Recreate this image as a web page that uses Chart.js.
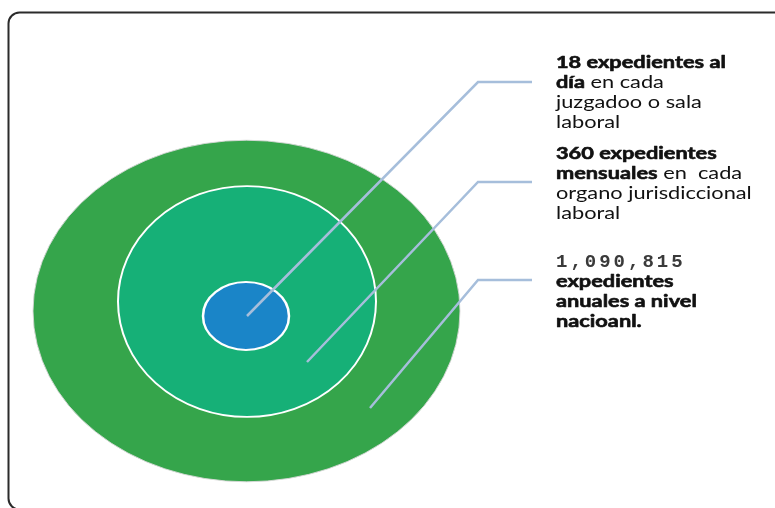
<!DOCTYPE html>
<html lang="es">
<head>
    <meta charset="UTF-8">
    <title>Expedientes laborales</title>
    <script src="https://cdn.jsdelivr.net/npm/chart.js"></script>
    <style>
        body { margin: 0; background: #fff; }
        #wrap { width: 775px; height: 508px; }
    </style>
</head>
<body>
    <div id="wrap"><canvas id="grafico" width="775" height="508"></canvas></div>

    <script>
        // Datos
        const niveles = ['día', 'mes', 'año'];
        const valores = [18, 360, 1090815];
        const colores = ['#1a85c8', '#16b077', '#35a54b'];

        // Geometria del diagrama (unidades = pixeles)
        const circulos = [
            { x: 246, y: 316, r: 43, aspecto: 0.79, borde: '#ffffff', grosor: 2.5 },
            { x: 247, y: 301.5, r: 129, aspecto: 0.895, borde: '#ffffff', grosor: 2 },
            { x: 246.5, y: 311, r: 213.5, aspecto: 0.80, borde: '#d8d8d8', grosor: 1 }
        ];
        const guias = [
            [[247, 316], [478, 82], [532, 82]],
            [[307, 362], [478, 182], [532, 182]],
            [[370, 408], [478, 280], [532, 280]]
        ];
        const fmt = n => n.toLocaleString('en-US');

        // Textos (tramos: [texto, estilo])
        const textos = [
            { y: 68, lineas: [
                [[valores[0] + ' expedientes al', 'b']],
                [['día', 'b'], [' en cada', 'n']],
                [['juzgadoo o sala', 'n']],
                [['laboral', 'n']]
            ]},
            { y: 159, lineas: [
                [[valores[1] + ' expedientes', 'b']],
                [['mensuales', 'b'], [' en  cada', 'n']],
                [['organo jurisdiccional', 'n']],
                [['laboral', 'n']]
            ]},
            { y: 267, lineas: [
                [[fmt(valores[2]), 'm']],
                [['expedientes', 'b']],
                [['anuales a nivel', 'b']],
                [['nacioanl.', 'b']]
            ]}
        ];

        const fuentes = {
            b: 'bold 17px Lato',
            n: '17px Lato',
            m: 'bold 19px "Liberation Mono"'
        };
        const estirar = 1.28;

        const elipses = {
            id: 'elipses',
            beforeDatasetDraw(chart, args) {
                const el = args.meta.data[0];
                const c = circulos[args.index];
                const ctx = chart.ctx;
                ctx.save();
                ctx.translate(el.x, el.y);
                ctx.scale(1, c.aspecto);
                ctx.translate(-el.x, -el.y);
            },
            afterDatasetDraw(chart) {
                chart.ctx.restore();
            }
        };

        const extras = {
            id: 'extras',
            beforeDraw(chart) {
                const ctx = chart.ctx;
                ctx.save();
                ctx.strokeStyle = '#2b2b2b';
                ctx.lineWidth = 2;
                ctx.beginPath();
                ctx.roundRect(8.5, 12.5, 790, 497, 11);
                ctx.stroke();
                ctx.restore();
            },
            afterDatasetsDraw(chart) {
                const ctx = chart.ctx;
                const sx = chart.scales.x, sy = chart.scales.y;
                ctx.save();
                ctx.strokeStyle = '#a6bedb';
                ctx.lineWidth = 2.5;
                guias.forEach(g => {
                    ctx.beginPath();
                    g.forEach((p, i) => {
                        const px = sx.getPixelForValue(p[0]);
                        const py = sy.getPixelForValue(p[1]);
                        if (i === 0) ctx.moveTo(px, py); else ctx.lineTo(px, py);
                    });
                    ctx.stroke();
                });

                ctx.textBaseline = 'alphabetic';
                ctx.lineJoin = 'round';
                textos.forEach(bloque => {
                    bloque.lineas.forEach((linea, i) => {
                        let x = 556;
                        const y = bloque.y + i * 20;
                        linea.forEach(([t, e]) => {
                            ctx.font = fuentes[e];
                            let k = estirar;
                            if (e === 'm') {
                                ctx.fillStyle = '#3a3a3a';
                                ctx.letterSpacing = '3px';
                                k = 1;
                            } else {
                                ctx.fillStyle = '#111111';
                                ctx.letterSpacing = '0px';
                            }
                            ctx.save();
                            ctx.translate(x, y);
                            ctx.scale(k, 1);
                            ctx.fillText(t, 0, 0);
                            if (e === 'b') {
                                ctx.strokeStyle = '#111111';
                                ctx.lineWidth = 0.6;
                                ctx.strokeText(t, 0, 0);
                            }
                            ctx.restore();
                            x += ctx.measureText(t).width * k;
                        });
                    });
                });
                ctx.restore();
            }
        };

        const ctx = document.getElementById('grafico').getContext('2d');
        new Chart(ctx, {
            type: 'bubble',
            data: {
                datasets: circulos.map((c, i) => ({
                    label: niveles[i] + ': ' + fmt(valores[i]),
                    data: [{ x: c.x, y: c.y, r: c.r }],
                    backgroundColor: colores[i],
                    borderColor: c.borde,
                    borderWidth: c.grosor,
                    hoverBorderWidth: c.grosor,
                    order: i + 1,
                    clip: false
                }))
            },
            options: {
                responsive: false,
                animation: false,
                events: [],
                layout: { padding: 0, autoPadding: false },
                scales: {
                    x: { type: 'linear', min: 0, max: 775, display: false },
                    y: { type: 'linear', min: 0, max: 508, reverse: true, display: false }
                },
                plugins: {
                    legend: { display: false },
                    tooltip: { enabled: false }
                }
            },
            plugins: [elipses, extras]
        });
    </script>
</body>
</html>
